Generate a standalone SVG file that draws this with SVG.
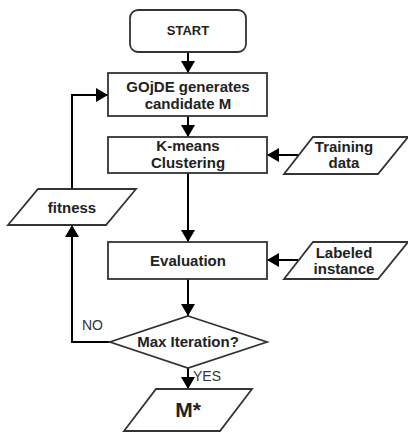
<svg xmlns="http://www.w3.org/2000/svg" width="408" height="432" viewBox="0 0 408 432">
<defs>
<marker id="ah" markerUnits="userSpaceOnUse" markerWidth="12" markerHeight="14" viewBox="0 0 12 14" refX="12" refY="7" orient="auto">
<path d="M0,0 L12,7 L0,14 Z" fill="#000"/>
</marker>
<style>
.box{fill:#fff;stroke:#333;stroke-width:1.8}
.t{font-family:"Liberation Sans",Arial,sans-serif;font-weight:bold;font-size:15px;fill:#222;text-anchor:middle}
.lbl{font-family:"Liberation Sans",Arial,sans-serif;font-size:14px;fill:#333}
.c{fill:none;stroke:#000;stroke-width:2;marker-end:url(#ah)}
</style>
</defs>
<rect width="408" height="432" fill="#fff"/>
<g id="connectors">
<path class="c" d="M188,52 V73"/>
<path class="c" d="M188,116 V137"/>
<path class="c" d="M188,173 V242"/>
<path class="c" d="M188,279 V316"/>
<path class="c" d="M188,368 V389"/>
<path class="c" d="M298,155 H267"/>
<path class="c" d="M298,260 H267"/>
<path class="c" d="M72,189 V95 H108"/>
<path class="c" d="M110,342 H72 V225"/>
</g>
<g id="start">
<rect class="box" x="130" y="10" width="116" height="42" rx="8"/>
<text class="t" x="188" y="35" style="font-size:13px">START</text>
</g>
<g id="gojde">
<rect class="box" x="108" y="73" width="159" height="43"/>
<text class="t" x="188" y="92">GOjDE generates</text>
<text class="t" x="188" y="109">candidate M</text>
</g>
<g id="kmeans">
<rect class="box" x="108" y="137" width="159" height="36"/>
<text class="t" x="188" y="151">K-means</text>
<text class="t" x="188" y="168">Clustering</text>
</g>
<g id="training">
<polygon class="box" points="313,137 408,137 378,174 284,174"/>
<text class="t" x="344" y="152">Training</text>
<text class="t" x="344" y="168">data</text>
</g>
<g id="fitness">
<polygon class="box" points="38,189 136,189 106,225 8,225"/>
<text class="t" x="72" y="213">fitness</text>
</g>
<g id="evaluation">
<rect class="box" x="108" y="242" width="159" height="37"/>
<text class="t" x="188" y="266">Evaluation</text>
</g>
<g id="labeled">
<polygon class="box" points="313,242 408,242 378,279 284,279"/>
<text class="t" x="344" y="258">Labeled</text>
<text class="t" x="344" y="274">instance</text>
</g>
<g id="maxiter">
<polygon class="box" points="188,316 267,342 188,368 110,342"/>
<text class="t" x="188" y="347">Max Iteration?</text>
</g>
<g id="mstar">
<polygon class="box" points="156,389 252,389 220,431 124,431"/>
<text class="t" x="188" y="417" style="font-size:21px">M*</text>
</g>
<text class="lbl" x="82" y="330">NO</text>
<text class="lbl" x="193" y="381">YES</text>
</svg>
